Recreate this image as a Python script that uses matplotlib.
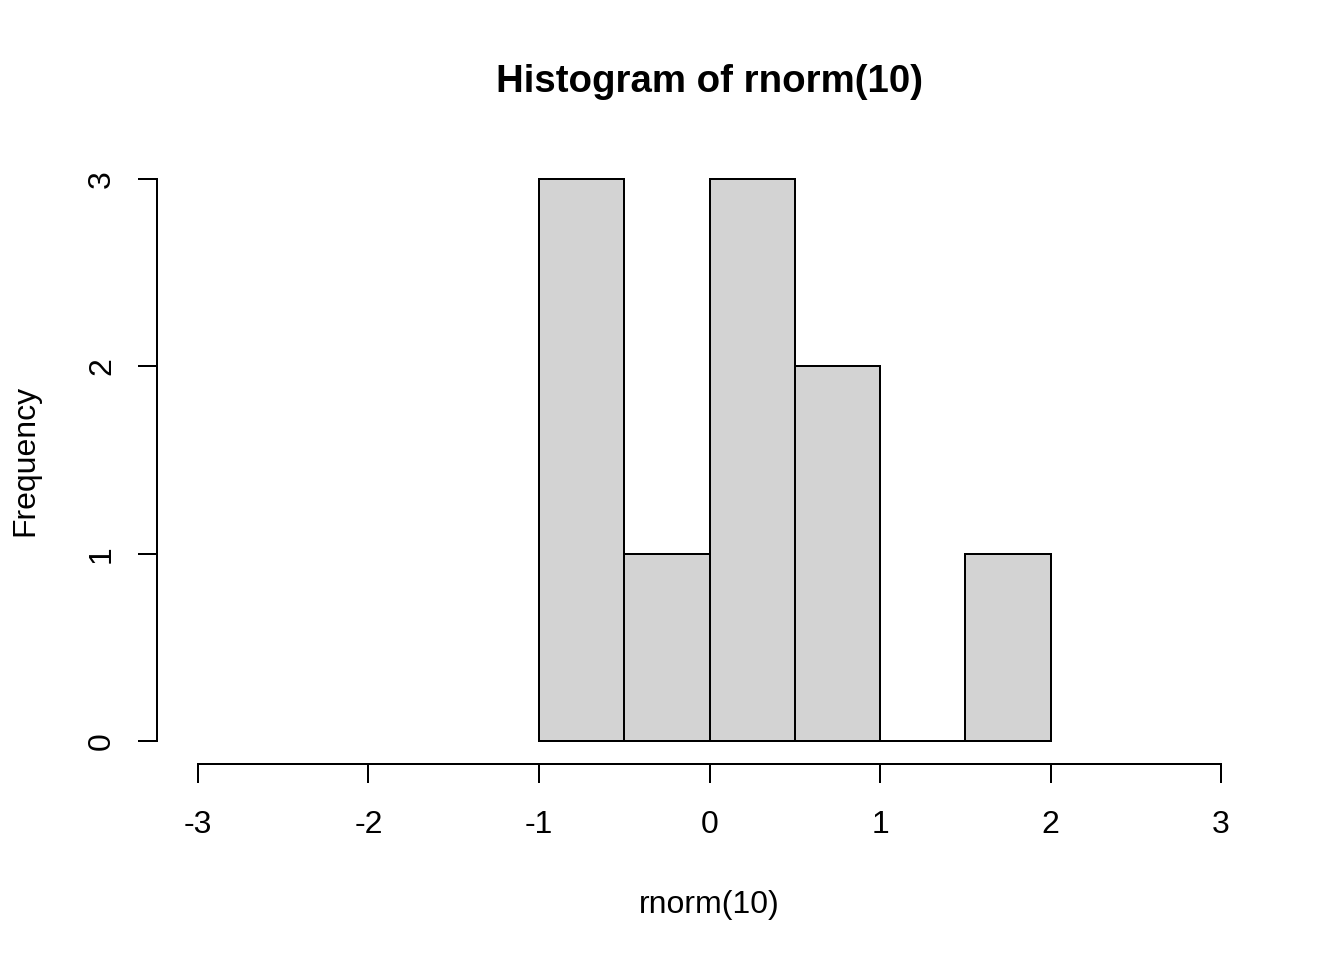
import matplotlib
matplotlib.use("Agg")
import matplotlib.pyplot as plt

# histogram of rnorm(10): bin edges and counts
bin_edges = [-1.0, -0.5, 0.0, 0.5, 1.0, 1.5, 2.0]
counts = [3, 1, 3, 2, 0, 1]
x_ticks = [-3, -2, -1, 0, 1, 2, 3]
y_ticks = [0, 1, 2, 3]

plt.rcParams['font.family'] = ['Liberation Sans', 'DejaVu Sans']

fig = plt.figure(figsize=(13.44, 9.6), dpi=100)
W, H = 1344, 960
left, right, top, bottom = 157, 1262, 156.5, 763.5
ax = fig.add_axes([left / W, 1 - bottom / H, (right - left) / W, (bottom - top) / H])

centers = [(a + b) / 2 for a, b in zip(bin_edges[:-1], bin_edges[1:])]
ax.hist(centers, bins=bin_edges, weights=counts, color='#D3D3D3',
        edgecolor='black', linewidth=1.44)

ax.set_xlim(-3.24, 3.24)
ax.set_ylim(-0.12, 3.12)

for s in ['top', 'right']:
    ax.spines[s].set_visible(False)
ax.spines['left'].set_bounds(0, 3)
ax.spines['bottom'].set_bounds(-3, 3)
ax.spines['left'].set_linewidth(1.44)
ax.spines['bottom'].set_linewidth(1.44)

ax.set_xticks(x_ticks)
ax.set_yticks(y_ticks)
ax.set_xticklabels([str(v) for v in x_ticks])
ax.set_yticklabels([str(v) for v in y_ticks], rotation=90, va='center')
ax.tick_params(length=13.8, width=1.44, labelsize=23, pad=20)
ax.tick_params(axis='y', pad=15)

ax.set_xlabel("rnorm(10)", fontsize=23, labelpad=36)
ax.set_ylabel("Frequency", fontsize=23, labelpad=33.5)
fig.text((left + right) / 2 / W, 1 - 82 / H, "Histogram of rnorm(10)",
         ha='center', va='center', fontsize=27.6, fontweight='bold')

fig.savefig("out.png", dpi=100)
